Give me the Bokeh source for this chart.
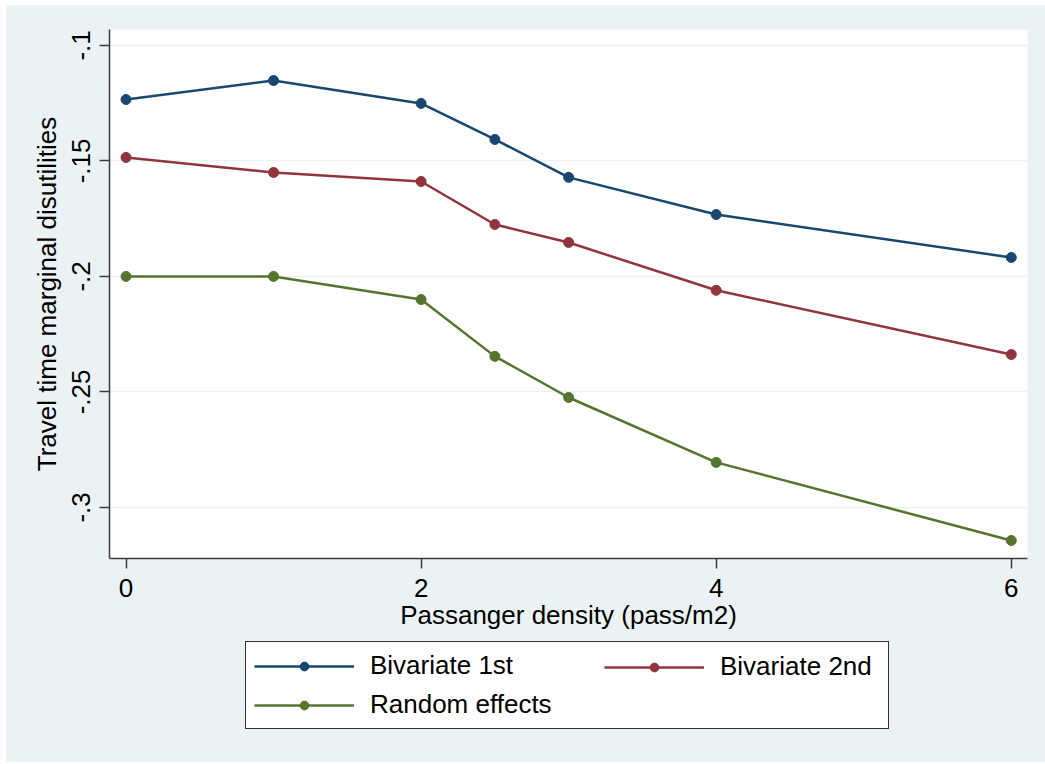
from bokeh.plotting import figure
from bokeh.layouts import column
from bokeh.models import Legend, LegendItem, FixedTicker, Range1d
from bokeh.embed import file_html
from bokeh.resources import INLINE

# ---- data ----
density = [0, 1, 2, 2.5, 3, 4, 6]
bivariate_1st = [-0.1234, -0.1152, -0.1251, -0.1407, -0.1571, -0.1732, -0.1918]
bivariate_2nd = [-0.1485, -0.1550, -0.1589, -0.1775, -0.1853, -0.2060, -0.2338]
random_effects = [-0.2000, -0.2000, -0.2100, -0.2346, -0.2524, -0.2805, -0.3143]
series_names = ["Bivariate 1st", "Bivariate 2nd", "Random effects"]
x_ticks = [0, 2, 4, 6]
y_ticks = [-0.3, -0.25, -0.2, -0.15, -0.1]
y_tick_labels = ["-.3", "-.25", "-.2", "-.15", "-.1"]
x_title = "Passanger density (pass/m2)"
y_title = "Travel time marginal disutilities"

# ---- styles ----
BG = "#EAF2F3"
COLORS = ["#1a476f", "#90353b", "#55752f"]
FONT = "Liberation Sans"
FS = "26px"
AXIS_COL = "#3c3c3c"
LINE_W = 2.5
MARKER_SIZE = 10

p = figure(
    width=1039, height=635,
    x_range=Range1d(-0.112, 6.11), y_range=Range1d(-0.3221, -0.0931),
    min_border_left=103, min_border_right=18, min_border_top=24, min_border_bottom=82,
    background_fill_color="white", border_fill_color=BG,
    outline_line_color=None,
    output_backend="svg", toolbar_location=None,
)

series = [bivariate_1st, bivariate_2nd, random_effects]
for ys, col in zip(series, COLORS):
    p.line(density, ys, line_color=col, line_width=LINE_W)
    p.scatter(density, ys, marker="circle", size=MARKER_SIZE, fill_color=col, line_color=col)

# axes
for ax in (p.xaxis, p.yaxis):
    ax.axis_line_color = AXIS_COL
    ax.axis_line_width = 1.5
    ax.major_tick_line_color = AXIS_COL
    ax.major_tick_line_width = 1.5
    ax.major_tick_out = 10
    ax.major_tick_in = 0
    ax.minor_tick_out = 0
    ax.minor_tick_in = 0
    ax.major_label_text_font = FONT
    ax.major_label_text_font_size = FS
    ax.major_label_text_color = "black"
    ax.axis_label_text_font = FONT
    ax.axis_label_text_font_size = FS
    ax.axis_label_text_font_style = "normal"
    ax.axis_label_text_color = "black"

p.xaxis.ticker = FixedTicker(ticks=x_ticks)
p.xaxis.major_label_standoff = 10
p.xaxis.axis_label = x_title
p.xaxis.axis_label_standoff = 0

p.yaxis.ticker = FixedTicker(ticks=y_ticks)
p.yaxis.major_label_overrides = {t: lab for t, lab in zip(y_ticks, y_tick_labels)}
p.yaxis.major_label_orientation = "vertical"
p.yaxis.major_label_standoff = 9
p.yaxis.axis_label = y_title
p.yaxis.axis_label_standoff = 8

p.xgrid.visible = False
p.ygrid.ticker = FixedTicker(ticks=y_ticks)
p.ygrid.grid_line_color = BG
p.ygrid.grid_line_width = 1.5

# ---- legend panel (a second figure whose frame holds the legend) ----
leg = figure(
    width=1039, height=122,
    x_range=Range1d(0, 1), y_range=Range1d(0, 1),
    x_axis_location=None, y_axis_location=None,
    min_border=0, min_border_left=0, min_border_right=0, min_border_top=0, min_border_bottom=0,
    background_fill_color=BG, border_fill_color=BG, outline_line_color=None,
    output_backend="svg", toolbar_location=None,
)
leg.grid.visible = False
proxies = []
for col in COLORS:
    l = leg.line([-10, -9], [-10, -9], line_color=col, line_width=LINE_W)
    s = leg.scatter([-10], [-10], marker="circle", size=MARKER_SIZE, fill_color=col, line_color=col)
    proxies.append([l, s])


def make_legend(items, loc, label_width, boxed):
    return Legend(
        items=items, location=loc, orientation="vertical",
        padding=8, spacing=8, margin=0,
        glyph_width=100, glyph_height=22, label_height=22,
        label_standoff=16, label_width=label_width,
        label_text_font=FONT, label_text_font_size=FS, label_text_color="black",
        background_fill_color="white",
        background_fill_alpha=1.0 if boxed else 0.0,
        border_line_color="#333333", border_line_width=1.5,
        border_line_alpha=1.0 if boxed else 0.0,
    )

legend_main = make_legend(
    [LegendItem(label=series_names[0], renderers=proxies[0]),
     LegendItem(label=series_names[2], renderers=proxies[2])],
    (136, 33), 510, True)
legend_col2 = make_legend(
    [LegendItem(label=series_names[1], renderers=proxies[1])],
    (487, 72), 20, False)
leg.add_layout(legend_main, "center")
leg.add_layout(legend_col2, "center")

page = column(p, leg, spacing=0, margin=(5, 0, 0, 6))
page.styles = {"background-color": BG}

open("out.html", "w").write(file_html(page, INLINE))
